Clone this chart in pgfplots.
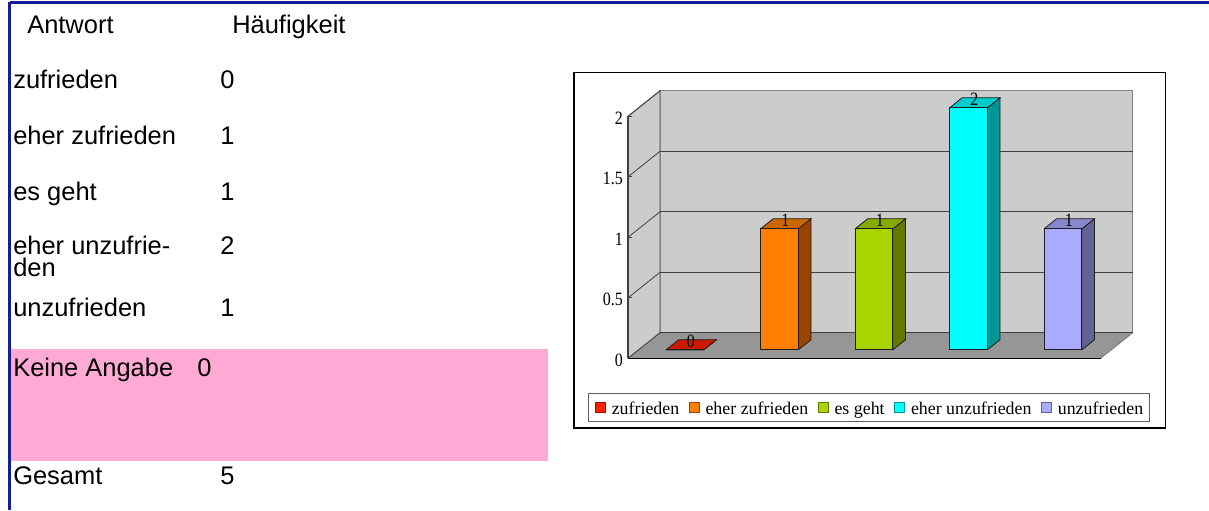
\documentclass[border=0pt]{standalone}
\usepackage{fontspec}
\setmainfont{Liberation Sans}
\newfontfamily\chartfont{Liberation Serif}
\newfontfamily\chartnum[FakeStretch=0.85]{Liberation Serif}
\usepackage{pgfplots}
\pgfplotsset{compat=1.18}

\definecolor{blueline}{RGB}{20,30,150}
\definecolor{pinkrow}{RGB}{255,170,212}
\definecolor{wallgray}{RGB}{204,204,204}
\definecolor{floorgray}{RGB}{150,150,150}
\definecolor{wallline}{RGB}{128,128,128}
\definecolor{gridline}{RGB}{64,64,64}
\definecolor{legendline}{RGB}{96,96,96}
\definecolor{barline}{RGB}{30,30,30}
% front / side / top of each bar
\definecolor{redF}{RGB}{255,32,0}    \definecolor{redS}{RGB}{153,19,0}    \definecolor{redT}{RGB}{204,26,0}
\definecolor{oraF}{RGB}{255,128,0}   \definecolor{oraS}{RGB}{153,68,0}    \definecolor{oraT}{RGB}{204,102,0}
\definecolor{grnF}{RGB}{170,212,0}   \definecolor{grnS}{RGB}{98,120,0}    \definecolor{grnT}{RGB}{136,170,0}
\definecolor{cyaF}{RGB}{0,255,255}   \definecolor{cyaS}{RGB}{0,150,150}   \definecolor{cyaT}{RGB}{0,204,204}
\definecolor{lavF}{RGB}{170,170,255} \definecolor{lavS}{RGB}{98,98,150}   \definecolor{lavT}{RGB}{136,136,204}

\newcommand{\tabsize}{\fontsize{19.1pt}{23pt}\selectfont}
\newcommand{\ticksize}{\chartnum\fontsize{14.1pt}{16pt}\selectfont}

% #1 left, #2 right, #3 value, #4 front, #5 side, #6 top
\newcommand{\drawbar}[6]{%
  \addplot3[forget plot, fill=#5, draw=barline, line width=0.6pt]
    coordinates {(#2,0.33,0) (#2,0.73,0) (#2,0.73,#3) (#2,0.33,#3) (#2,0.33,0)};
  \addplot3[forget plot, fill=#6, draw=barline, line width=0.6pt]
    coordinates {(#1,0.33,#3) (#2,0.33,#3) (#2,0.73,#3) (#1,0.73,#3) (#1,0.33,#3)};
  \addplot3[forget plot, fill=#4, draw=barline, line width=0.6pt]
    coordinates {(#1,0.33,0) (#2,0.33,0) (#2,0.33,#3) (#1,0.33,#3) (#1,0.33,0)};
}

\begin{document}
\begin{tikzpicture}
\begin{scope}[x=0.75pt, y=-0.75pt]
  \useasboundingbox (0,0) rectangle (1209,510);
  \fill[pinkrow] (11,349) rectangle (548,461);

  \begin{scope}[every node/.style={anchor=base west, inner sep=0pt, font=\tabsize}]
    \node at (27,34) {Antwort};
    \node at (232,34) {Häufigkeit};
    \node at (13,89) {zufrieden};          \node at (220,89) {0};
    \node at (13,144.5) {eher zufrieden};  \node at (220,144.5) {1};
    \node at (13,200) {es geht};           \node at (220,200) {1};
    \node at (13,254) {\parbox[t]{150pt}{\fontsize{19.1pt}{16.9pt}\selectfont eher unzufrie-\\den}};
    \node at (220,254) {2};
    \node at (13,316.5) {unzufrieden};     \node at (220,316.5) {1};
    \node at (13,376) {Keine Angabe};      \node at (197,376) {0};
    \node at (13,484) {Gesamt};            \node at (220,484) {5};
  \end{scope}

  \draw[blueline, line width=1.6pt] (9.5,2.5) -- (1209,2.5);
  \draw[blueline, line width=1.8pt] (9.5,2) -- (9.5,510);

  \draw[black, line width=1.1pt] (574,72.5) rectangle (1165.5,428);
\end{scope}

\begin{axis}[
    at={(471pt,-268.725pt)}, anchor=origin,
    x={(70.875pt,0pt)}, y={(24pt,19.125pt)}, z={(0pt,90.75pt)},
    xmin=0, xmax=5, ymin=0, ymax=1, zmin=0, zmax=2,
    hide axis, clip=false,
    legend columns=5,
    legend style={at={(axis cs:2.55,0,-0.406)}, anchor=center, draw=legendline, line width=0.75pt,
        inner xsep=5pt, inner ysep=5.25pt,
        font=\chartfont\fontsize{13.4pt}{15pt}\selectfont,
        nodes={inner sep=0pt, text height=11pt, text depth=0pt},
        /tikz/every odd column/.append style={column sep=4.5pt},
        /tikz/every even column/.append style={column sep=7pt}},
    legend image code/.code={\draw[#1, line width=0.75pt] (0pt,-3.75pt) rectangle (7.5pt,3.75pt);},
  ]
  % walls and floor
  \addplot3[forget plot, fill=wallgray, draw=wallline, line width=0.8pt]
    coordinates {(0,1,0) (5,1,0) (5,1,2) (0,1,2) (0,1,0)};
  \addplot3[forget plot, fill=wallgray, draw=wallline, line width=0.8pt]
    coordinates {(0,0,0) (0,1,0) (0,1,2) (0,0,2) (0,0,0)};
  \addplot3[forget plot, fill=floorgray, draw=none]
    coordinates {(0,0,0) (5,0,0) (5,1,0) (0,1,0) (0,0,0)};
  \addplot3[forget plot, draw=wallline, line width=0.8pt] coordinates {(5,0,0) (5,1,0)};
  \addplot3[forget plot, draw=gridline, line width=0.9pt] coordinates {(0,1,0) (5,1,0)};
  % grid lines on back wall
  \addplot3[forget plot, draw=gridline, line width=0.9pt] coordinates {(0,1,0.5) (5,1,0.5)};
  \addplot3[forget plot, draw=gridline, line width=0.9pt] coordinates {(0,1,1) (5,1,1)};
  \addplot3[forget plot, draw=gridline, line width=0.9pt] coordinates {(0,1,1.5) (5,1,1.5)};
  % grid lines on side wall
  \addplot3[forget plot, draw=gridline, line width=0.6pt] coordinates {(0,0,0.5) (0,1,0.5)};
  \addplot3[forget plot, draw=gridline, line width=0.6pt] coordinates {(0,0,1) (0,1,1)};
  \addplot3[forget plot, draw=gridline, line width=0.6pt] coordinates {(0,0,1.5) (0,1,1.5)};
  \addplot3[forget plot, draw=gridline, line width=0.6pt] coordinates {(0,0,2) (0,1,2)};
  \addplot3[forget plot, draw=gridline, line width=0.6pt] coordinates {(0,0,0) (0,1,0)};
  % front value axis with ticks
  \addplot3[forget plot, draw=gridline, line width=0.8pt] coordinates {(0,0,0) (0,0,2)};
  \addplot3[forget plot, draw=black, line width=1.1pt] coordinates {(0,0,0) (5,0,0)};
  \addplot3[forget plot, draw=gridline, line width=0.7pt] coordinates {(0,0,0.5) (0.04,0,0.5)};
  \addplot3[forget plot, draw=gridline, line width=0.7pt] coordinates {(0,0,1) (0.04,0,1)};
  \addplot3[forget plot, draw=gridline, line width=0.7pt] coordinates {(0,0,1.5) (0.04,0,1.5)};
  \addplot3[forget plot, draw=gridline, line width=0.7pt] coordinates {(0,0,2) (0.04,0,2)};
  \addplot3[forget plot, draw=none, nodes near coords, point meta=explicit symbolic,
      every node near coord/.append style={font=\ticksize, anchor=east, inner sep=0pt,
          xshift=-3.75pt, yshift=-1.5pt}]
    coordinates {(0,0,0) [0] (0,0,0.5) [0.5] (0,0,1) [1] (0,0,1.5) [1.5] (0,0,2) [2]};

  % bars: zufrieden 0, eher zufrieden 1, es geht 1, eher unzufrieden 2, unzufrieden 1
  \drawbar{0.29}{0.69}{0}{redF}{redS}{redT}
  \drawbar{1.29}{1.69}{1}{oraF}{oraS}{oraT}
  \drawbar{2.29}{2.69}{1}{grnF}{grnS}{grnT}
  \drawbar{3.29}{3.69}{2}{cyaF}{cyaS}{cyaT}
  \drawbar{4.29}{4.69}{1}{lavF}{lavS}{lavT}

  \addplot3[forget plot, draw=none, nodes near coords, point meta=explicit symbolic,
      every node near coord/.append style={font=\ticksize, anchor=center, inner sep=0pt,
          yshift=3pt}]
    coordinates {(0.49,0.52,0) [0] (1.49,0.52,1) [1] (2.49,0.52,1) [1] (3.49,0.52,2) [2] (4.49,0.52,1) [1]};

  \addlegendimage{fill=redF, draw=redS}
  \addlegendentry{zufrieden}
  \addlegendimage{fill=oraF, draw=oraS}
  \addlegendentry{eher zufrieden}
  \addlegendimage{fill=grnF, draw=grnS}
  \addlegendentry{es geht}
  \addlegendimage{fill=cyaF, draw=cyaS}
  \addlegendentry{eher unzufrieden}
  \addlegendimage{fill=lavF, draw=lavS}
  \addlegendentry{unzufrieden}
\end{axis}
\end{tikzpicture}
\end{document}
